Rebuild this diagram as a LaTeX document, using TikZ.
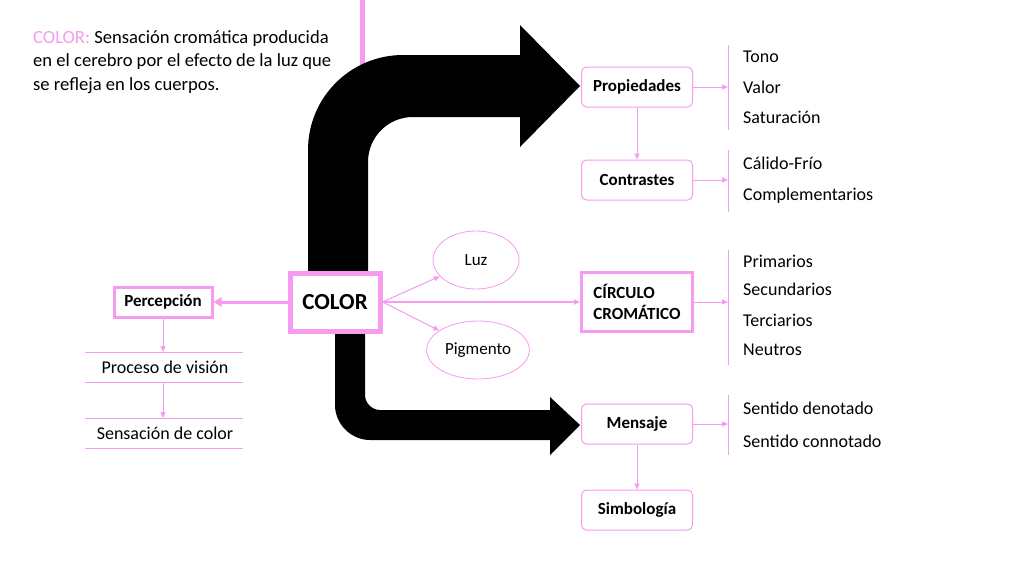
\documentclass[tikz,border=0pt]{standalone}
\usepackage{fontspec}
\setmainfont{Carlito}
\usetikzlibrary{shapes.geometric,arrows.meta}
\definecolor{pk}{RGB}{245,155,240}
\begin{document}
\begin{tikzpicture}[x=1pt,y=-1pt,
  txt/.style={font=\fontsize{18}{21}\selectfont,anchor=west,inner sep=0},
  bx/.style={font=\bfseries\fontsize{17}{20}\selectfont,draw=pk,rounded corners=5pt,line width=1pt,minimum width=111pt,minimum height=40pt,fill=white},
  sq/.style={font=\bfseries\fontsize{17}{21}\selectfont,draw=pk,line width=3pt,fill=white},
  el/.style={ellipse,draw=pk,line width=0.8pt,minimum width=86pt,minimum height=58pt,font=\fontsize{17}{20}\selectfont},
  ar/.style={draw=pk,line width=1pt,-{Triangle[length=6pt,width=5pt]}},
  br/.style={draw=pk,line width=1pt}]
\useasboundingbox (0,0) rectangle (1024,576);
\fill[white] (0,0) rectangle (1024,576);
\draw[pk,line width=5pt] (362,0) -- (362,75);
% black arrows
\fill[black] (308,275) -- (308,150) .. controls (308,97.5) and (350.5,55) .. (403,55) -- (520,55) -- (520,25) -- (580,86) -- (520,147) -- (520,117) -- (413,117) .. controls (388,117) and (368,137) .. (368,162) -- (368,275) -- cycle;
\fill[black] (335,330) -- (335,405) .. controls (335,424) and (351,440) .. (370,440) -- (550,440) -- (550,455) -- (580,425) -- (550,397) -- (550,410) -- (380,410) .. controls (372,410) and (365,403) .. (365,395) -- (365,330) -- cycle;
\node[font=\fontsize{18.6}{23.5}\selectfont,align=left,anchor=north west,inner sep=0] (t) at (33,30) {\textcolor{pk}{COLOR:} Sensación cromática producida\\en el cerebro por el efecto de la luz que\\se refleja en los cuerpos.};
\node[sq,line width=5pt,minimum width=90pt,minimum height=58pt,font=\bfseries\fontsize{23}{27}\selectfont] (c) at (335,302) {COLOR};
\node[sq,minimum width=98pt,minimum height=30pt] (p) at (163,302) {Percepción};
\node[sq,minimum width=111pt,minimum height=59pt,align=left] (cc) at (637,302) {CÍRCULO\\CROMÁTICO};
\node[bx] (pr) at (637,87) {Propiedades};
\node[bx] (co) at (637,180) {Contrastes};
\node[bx] (me) at (637,424) {Mensaje};
\node[bx] (si) at (637,510) {Simbología};
\node[el] (luz) at (476,260) {Luz};
\node[el] (pig) at (478,350) {Pigmento};
\node[font=\fontsize{18}{21}\selectfont] (pv) at (165,367) {Proceso de visión};
\node[font=\fontsize{18}{21}\selectfont] (sc) at (165,433) {Sensación de color};
\draw[pk,line width=0.8pt] (85,352) -- (243,352) (85,382) -- (243,382) (85,418) -- (243,418) (85,448) -- (243,448);
\draw[ar,line width=3pt,-{Triangle[length=8pt,width=9pt]}] (c) -- (p);
\draw[ar,line width=2pt] (c) -- (cc);
\draw[ar] (c.east) -- (luz);
\draw[ar] (c.east) -- (pig);
\draw[ar] (p) -- (163,352);
\draw[ar] (163,382) -- (163,418);
\draw[ar] (pr) -- (co);
\draw[ar] (me) -- (si);
\coordinate (b1) at (728,87); \coordinate (b2) at (728,180);
\coordinate (b3) at (728,302); \coordinate (b4) at (728,424);
\draw[ar] (pr) -- (b1); \draw[ar] (co) -- (b2); \draw[ar] (cc) -- (b3); \draw[ar] (me) -- (b4);
\draw[br] (728,45) -- (728,130) (728,150) -- (728,212) (728,250) -- (728,365) (728,395) -- (728,455);
\node[txt] at (743,57) {Tono};
\node[txt] at (743,87) {Valor};
\node[txt] at (743,117) {Saturación};
\node[txt] at (743,163) {Cálido-Frío};
\node[txt] at (743,196) {Complementarios};
\node[txt] at (743,261) {Primarios};
\node[txt] at (743,289) {Secundarios};
\node[txt] at (743,320) {Terciarios};
\node[txt] at (743,350) {Neutros};
\node[txt] at (743,408) {Sentido denotado};
\node[txt] at (743,441) {Sentido connotado};
\end{tikzpicture}
\end{document}
